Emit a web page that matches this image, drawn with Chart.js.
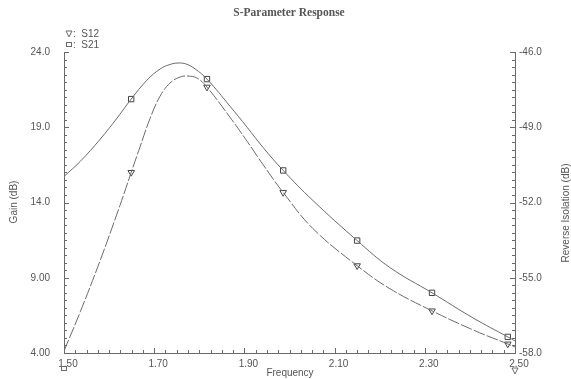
<!DOCTYPE html>
<html>
<head>
<meta charset="utf-8">
<script src="https://cdn.jsdelivr.net/npm/chart.js@4/dist/chart.umd.min.js"></script>
<style>
  body { margin: 0; background: #fff; }
  #c { display: block; }
</style>
</head>
<body>
<canvas id="c" width="571" height="379"></canvas>
<script>
// S21 gain curve (left axis, dB)
const s21Freq = [1.500, 1.536, 1.580, 1.618, 1.649, 1.684, 1.713, 1.735, 1.753, 1.771, 1.791, 1.817, 1.868, 1.906, 1.941, 1.986, 2.052, 2.150, 2.223, 2.316, 2.407, 2.484, 2.500];
const s21Gain = [15.73, 16.73, 18.20, 19.62, 20.87, 22.13, 22.87, 23.17, 23.27, 23.20, 22.87, 22.20, 20.40, 19.00, 17.67, 16.13, 14.13, 11.47, 9.67, 8.00, 6.33, 5.07, 4.80];

// S12 reverse isolation curve (right axis, dB)
const s12Freq = [1.500, 1.536, 1.580, 1.624, 1.649, 1.669, 1.691, 1.713, 1.735, 1.757, 1.775, 1.795, 1.817, 1.868, 1.906, 1.941, 1.986, 2.052, 2.150, 2.223, 2.316, 2.407, 2.484, 2.500];
const s12Iso = [-57.92, -56.36, -54.32, -52.12, -50.80, -49.76, -48.64, -47.76, -47.24, -47.00, -46.96, -47.04, -47.40, -48.60, -49.56, -50.48, -51.60, -53.04, -54.52, -55.44, -56.32, -57.08, -57.64, -57.76];

// marker positions
const markerFreq = [1.649, 1.817, 1.986, 2.150, 2.316, 2.484];
const s21Marker = [20.87, 22.20, 16.13, 11.47, 8.00, 5.07];
const s12Marker = [-50.80, -47.40, -51.60, -54.52, -56.32, -57.64];

const xTicks = [1.5, 1.7, 1.9, 2.1, 2.3, 2.5];

const ink = '#555';
const lineCol = '#6a6a6a';
const font = 'Liberation Sans, Arial, sans-serif';

const toXY = (xs, ys) => xs.map((x, i) => ({ x: x, y: ys[i] }));

const extras = {
  id: 'extras',
  afterDraw(chart) {
    const c = chart.ctx;
    const a = chart.chartArea;
    const sx = chart.scales.x, sy = chart.scales.y, sy1 = chart.scales.y1;
    c.save();
    c.strokeStyle = lineCol;
    c.lineWidth = 1;
    // inner ticks
    c.beginPath();
    for (let i = 0; i <= 40; i++) {
      const px = Math.round(sx.getPixelForValue(1.5 + i * 0.025)) + 0.5;
      const len = i % 8 === 0 ? 5 : 3;
      c.moveTo(px, a.bottom); c.lineTo(px, a.bottom - len);
      const py = Math.round(sy.getPixelForValue(4 + i * 0.5)) + 0.5;
      const l2 = i % 10 === 0 ? 5 : 3;
      c.moveTo(a.left, py); c.lineTo(a.left + l2, py);
      const py1 = Math.round(sy1.getPixelForValue(-58 + i * 0.3)) + 0.5;
      c.moveTo(a.right, py1); c.lineTo(a.right - l2, py1);
    }
    c.stroke();

    c.fillStyle = ink;
    // title
    c.font = 'bold 11.5px Liberation Serif, Times New Roman, serif';
    c.textAlign = 'center';
    c.textBaseline = 'middle';
    c.fillText('S-Parameter Response', 289, 13);

    c.font = '10px ' + font;
    // axis titles
    c.fillText('Frequency', 290, 373);
    c.save();
    c.translate(14, 202);
    c.rotate(-Math.PI / 2);
    c.fillText('Gain (dB)', 0, 0);
    c.restore();
    c.save();
    c.translate(566, 213);
    c.rotate(-Math.PI / 2);
    c.fillText('Reverse Isolation (dB)', 0, 0);
    c.restore();

    // legend
    c.textAlign = 'left';
    c.fillText(':  S12', 73, 34);
    c.fillText(':  S21', 73, 45);
    c.beginPath();
    c.moveTo(66, 31); c.lineTo(72, 31); c.lineTo(69, 37); c.closePath();
    c.stroke();
    c.strokeRect(66.5, 42.5, 5, 4);

    // sweep end markers under the axis
    const x0 = sx.getPixelForValue(1.5), x1 = sx.getPixelForValue(2.5);
    c.strokeRect(Math.round(x0) - 2.5, 366.5, 5, 4);
    c.beginPath();
    c.moveTo(x1 - 3, 368); c.lineTo(x1 + 3, 368); c.lineTo(x1, 374); c.closePath();
    c.stroke();
    c.restore();
  }
};

new Chart(document.getElementById('c'), {
  type: 'scatter',
  data: {
    datasets: [
      {
        label: 'S21',
        type: 'line',
        data: toXY(s21Freq, s21Gain),
        yAxisID: 'y',
        borderColor: lineCol,
        borderWidth: 1,
        pointRadius: 0,
        fill: false,
        tension: 0.4
      },
      {
        label: 'S12',
        type: 'line',
        data: toXY(s12Freq, s12Iso),
        yAxisID: 'y1',
        borderColor: lineCol,
        borderWidth: 1,
        borderDash: [12, 2],
        pointRadius: 0,
        fill: false,
        tension: 0.4
      },
      {
        label: 'S21 markers',
        data: toXY(markerFreq, s21Marker),
        yAxisID: 'y',
        pointStyle: 'rect',
        pointRadius: 3.8,
        borderColor: '#444',
        backgroundColor: '#fff',
        borderWidth: 1
      },
      {
        label: 'S12 markers',
        data: toXY(markerFreq, s12Marker),
        yAxisID: 'y1',
        pointStyle: 'triangle',
        rotation: 180,
        pointRadius: 3.8,
        borderColor: '#444',
        backgroundColor: '#fff',
        borderWidth: 1
      }
    ]
  },
  options: {
    responsive: false,
    animation: false,
    layout: { padding: { top: 52 } },
    plugins: {
      legend: { display: false },
      title: { display: false },
      tooltip: { enabled: false }
    },
    scales: {
      x: {
        type: 'linear',
        min: 1.5,
        max: 2.5,
        afterBuildTicks: s => { s.ticks = xTicks.map(v => ({ value: v })); },
        afterFit: s => { s.height = 26; },
        grid: { display: false, drawTicks: false },
        border: { color: lineCol },
        ticks: {
          color: ink,
          font: { family: font, size: 10 },
          padding: 5,
          labelOffset: 4,
          maxRotation: 0,
          callback: v => v.toFixed(2)
        }
      },
      y: {
        position: 'left',
        min: 4,
        max: 24,
        afterFit: s => { s.width = 64; },
        grid: { display: false, drawTicks: false },
        border: { color: lineCol },
        ticks: {
          stepSize: 5,
          color: ink,
          font: { family: font, size: 10 },
          padding: 14,
          callback: v => v < 10 ? v.toFixed(2) : v.toFixed(1)
        }
      },
      y1: {
        position: 'right',
        min: -58,
        max: -46,
        afterFit: s => { s.width = 56; },
        grid: { display: false, drawTicks: false },
        border: { color: lineCol },
        ticks: {
          stepSize: 3,
          color: ink,
          font: { family: font, size: 10 },
          padding: 4,
          callback: v => v.toFixed(1)
        }
      }
    }
  },
  plugins: [extras]
});
</script>
</body>
</html>
